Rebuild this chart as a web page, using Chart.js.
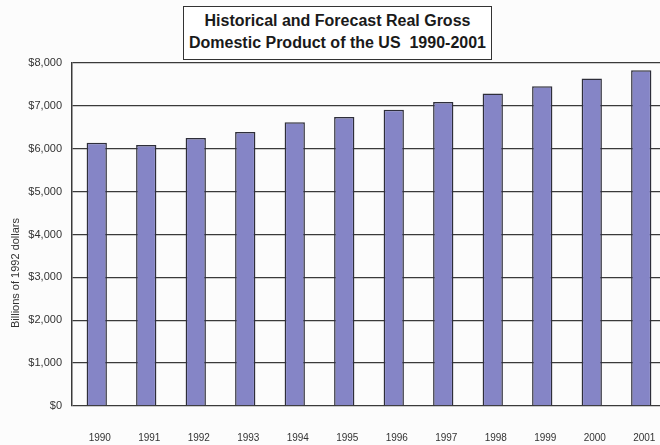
<!DOCTYPE html>
<html>
<head>
<meta charset="utf-8">
<script src="https://cdn.jsdelivr.net/npm/chart.js@4/dist/chart.umd.min.js"></script>
<style>
  html, body { margin: 0; padding: 0; background: #fcfcfc; }
  #wrap { position: relative; width: 660px; height: 445px; overflow: hidden; }
  #box { position: absolute; width: 680px; height: 445px; left: 0; top: 0; }
  #title {
    position: absolute; left: 183px; top: 6px; width: 307px; height: 49px;
    border: 1.5px solid #333; background: #fff;
    font: bold 16px "Liberation Sans", Arial, sans-serif; color: #1a1a1a;
    text-align: center; line-height: 22px; padding-top: 3px; box-sizing: content-box;
  }
</style>
</head>
<body>
<div id="wrap">
  <div id="box"><canvas id="gdpChart" width="680" height="445"></canvas></div>
  <div id="title">Historical and Forecast Real Gross<br>Domestic Product of the US&nbsp; 1990-2001</div>
</div>
<script>
const years = ["1990", "1991", "1992", "1993", "1994", "1995", "1996", "1997", "1998", "1999", "2000", "2001"];
const gdp = [6140, 6090, 6250, 6390, 6620, 6740, 6910, 7090, 7290, 7460, 7640, 7830];
const yTicks = [0, 1000, 2000, 3000, 4000, 5000, 6000, 7000, 8000];
const yLabel = "Billions of 1992 dollars";

const FONT = "'Liberation Sans', Arial, sans-serif";

// rotated axis caption, sits a bit below the plot middle
const sideLabel = {
  id: "sideLabel",
  afterDraw(chart) {
    const ctx = chart.ctx;
    ctx.save();
    ctx.translate(16, 273);
    ctx.rotate(-Math.PI / 2);
    ctx.font = "11px " + FONT;
    ctx.fillStyle = "#333";
    ctx.textAlign = "center";
    ctx.textBaseline = "middle";
    ctx.fillText(yLabel, 0, 0);
    ctx.restore();
  }
};

new Chart(document.getElementById("gdpChart").getContext("2d"), {
  type: "bar",
  data: {
    labels: years,
    datasets: [{
      data: gdp,
      backgroundColor: "#8585c6",
      borderColor: "#2e2e3a",
      borderWidth: 1.5,
      categoryPercentage: 0.82,
      barPercentage: 0.5,
    }]
  },
  options: {
    responsive: false,
    animation: false,
    layout: { padding: { top: 63, right: 14, left: 0, bottom: 0 } },
    plugins: { legend: { display: false }, tooltip: { enabled: false } },
    scales: {
      x: {
        grid: { display: false, drawTicks: false },
        border: { display: false },
        ticks: { color: "#333", font: { family: FONT, size: 10 }, padding: 26, labelOffset: 3, maxRotation: 0 },
        afterFit(s) { s.height = 39; },
      },
      y: {
        min: 0, max: 8000,
        afterBuildTicks(s) { s.ticks = yTicks.map(v => ({ value: v })); },
        grid: { color: "#3a3a3a", lineWidth: 1.3, drawTicks: false },
        border: { display: true, color: "#3a3a3a", width: 1.5 },
        ticks: {
          color: "#333", font: { family: FONT, size: 11 }, padding: 10,
          callback: v => "$" + v.toLocaleString("en-US"),
        },
        afterFit(s) { s.width = 72; },
      }
    }
  },
  plugins: [sideLabel]
});
</script>
</body>
</html>
